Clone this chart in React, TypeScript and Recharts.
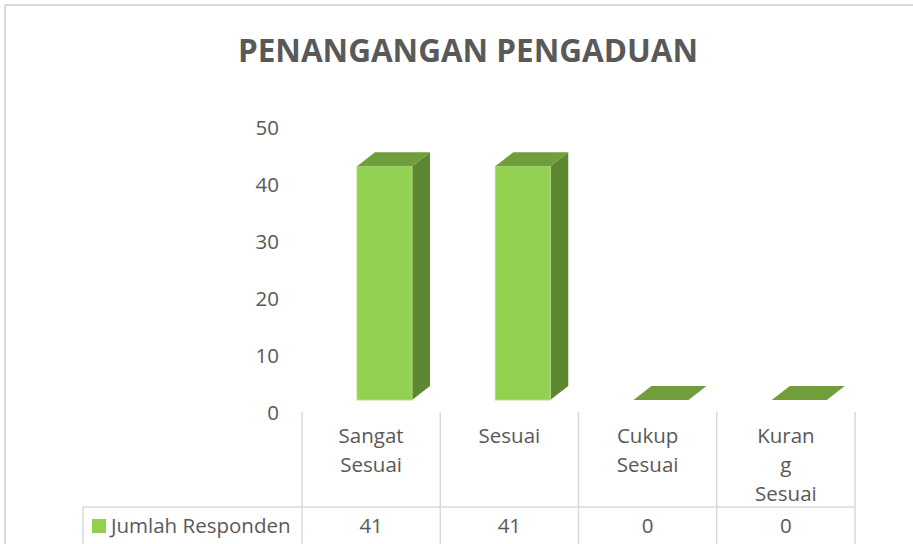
import React from "react";
import { BarChart, Bar, XAxis, YAxis } from "recharts";

const title = "PENANGANGAN PENGADUAN";
const seriesName = "Jumlah Responden";
const categories = ["Sangat Sesuai", "Sesuai", "Cukup Sesuai", "Kurang Sesuai"];
// how the category labels wrap in the data table
const categoryLines = [["Sangat", "Sesuai"], ["Sesuai"], ["Cukup", "Sesuai"], ["Kuran", "g", "Sesuai"]];
const responden = [41, 41, 0, 0];
const yTicks = [0, 10, 20, 30, 40, 50];

const data = categories.map((name, i) => ({ name, value: responden[i] }));

const W = 913;
const H = 544;
const M = { top: 127, right: 58, bottom: 0, left: 272 };
const Y_W = 30;
const X_H = 132;
const PLOT_L = M.left + Y_W;
const PLOT_R = W - M.right;
const PLOT_B = H - X_H;
const BAND = (PLOT_R - PLOT_L) / categories.length;

// fake 3d look
const DX = 18;
const DY = -14;
const LIFT = 12;
const SHIFT = 13;

const FONT = "'Open Sans', sans-serif";
const FS = 20.5;
const TEXT = "#595959";
const GRID = "#D9D9D9";
const FRONT = "#92D050";
const SIDE = "#5E8732";
const TOP = "#6F9E3B";

function Bar3D(props: any) {
  const { x, y, width, height } = props;
  const l = x + SHIFT;
  const r = l + width;
  const b = y + height - LIFT;
  const t = y - LIFT;
  const side = `${r},${t} ${r + DX},${t + DY} ${r + DX},${b + DY} ${r},${b}`;
  const top = `${l},${t} ${r},${t} ${r + DX},${t + DY} ${l + DX},${t + DY}`;
  return (
    <g>
      {height > 0 && <polygon points={side} fill={SIDE} />}
      {height > 0 && (
        <rect x={l} y={t} width={width} height={height} fill={FRONT} stroke="#B5DE8C" strokeWidth={1} />
      )}
      <polygon points={top} fill={TOP} />
    </g>
  );
}

function YTick(props: any) {
  const { y, payload } = props;
  return (
    <text x={279} y={y + 7.5} textAnchor="end" fill={TEXT} fontSize={FS} fontFamily={FONT}>
      {payload.value}
    </text>
  );
}

function CatTick(props: any) {
  const { x, index } = props;
  const left = x - BAND / 2;
  const right = x + BAND / 2;
  const rowY = 507;
  return (
    <g>
      <line x1={left} y1={PLOT_B} x2={left} y2={H} stroke={GRID} strokeWidth={1.5} />
      {index === categories.length - 1 && (
        <line x1={right} y1={PLOT_B} x2={right} y2={H} stroke={GRID} strokeWidth={1.5} />
      )}
      {categoryLines[index].map((t, k) => (
        <text key={k} x={x} y={443 + 29 * k} textAnchor="middle" fill={TEXT} fontSize={FS} fontFamily={FONT}>
          {t}
        </text>
      ))}
      <text x={x} y={532.5} textAnchor="middle" fill={TEXT} fontSize={FS} fontFamily={FONT}>
        {responden[index]}
      </text>
      {index === 0 && (
        <g>
          <line x1={83} y1={rowY} x2={PLOT_R} y2={rowY} stroke={GRID} strokeWidth={1.5} />
          <line x1={83} y1={rowY} x2={83} y2={H} stroke={GRID} strokeWidth={1.5} />
          <rect x={92} y={519} width={14} height={14} fill={FRONT} />
          <text x={111} y={532.5} fill={TEXT} fontSize={FS} fontFamily={FONT}>
            {seriesName}
          </text>
        </g>
      )}
    </g>
  );
}

export default function App() {
  return (
    <div style={{ position: "absolute", left: 0, top: 0, width: W, height: H, overflow: "hidden", background: "#fff" }}>
      <BarChart width={W} height={H} data={data} margin={M}>
        <XAxis
          dataKey="name"
          height={X_H}
          interval={0}
          axisLine={false}
          tickLine={false}
          tick={<CatTick />}
        />
        <YAxis
          width={Y_W}
          domain={[0, 50]}
          ticks={yTicks}
          axisLine={false}
          tickLine={false}
          tick={<YTick />}
        />
        <Bar dataKey="value" name={seriesName} barSize={55} shape={<Bar3D />} isAnimationActive={false} />
      </BarChart>
      <svg width={W} height={H} style={{ position: "absolute", left: 0, top: 0, pointerEvents: "none" }}>
        <line x1={5} y1={5} x2={W} y2={5} stroke={GRID} strokeWidth={2} />
        <line x1={5} y1={5} x2={5} y2={H} stroke={GRID} strokeWidth={2} />
        <text
          x={468}
          y={62}
          textAnchor="middle"
          fill={TEXT}
          fontSize={32.5}
          fontWeight="bold"
          fontFamily={FONT}
          textLength={460}
          lengthAdjust="spacingAndGlyphs"
        >
          {title}
        </text>
      </svg>
    </div>
  );
}
